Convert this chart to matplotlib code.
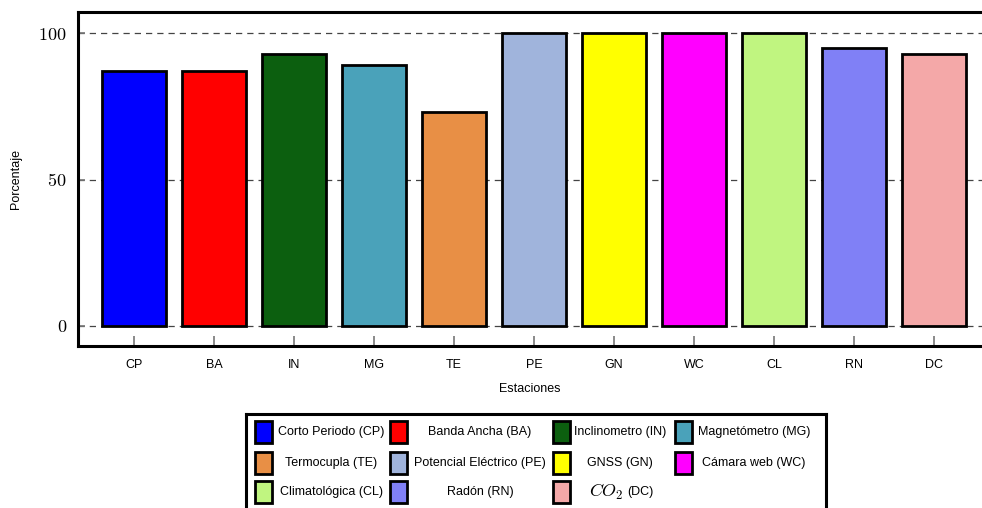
import matplotlib
matplotlib.use("Agg")
import matplotlib.pyplot as plt
from matplotlib.patches import Rectangle

plt.rcParams["font.family"] = ["Liberation Sans", "DejaVu Sans"]
plt.rcParams["mathtext.fontset"] = "cm"

codes = ["CP", "BA", "IN", "MG", "TE", "PE", "GN", "WC", "CL", "RN", "DC"]
names = ["Corto Periodo (CP)", "Banda Ancha (BA)", "Inclinometro (IN)",
         "Magnetómetro (MG)", "Termocupla (TE)", "Potencial Eléctrico (PE)",
         "GNSS (GN)", "Cámara web (WC)", "Climatológica (CL)", "Radón (RN)",
         "CO2 (DC)"]
values = [87, 87, 93, 89, 73, 100, 100, 100, 100, 95, 93]
colors = ["#0000ff", "#ff0000", "#0c5f0f", "#4aa2ba", "#e88f45", "#a0b4dc",
          "#ffff00", "#ff00ff", "#c0f580", "#8080f6", "#f4a8a8"]
yticks = [0, 50, 100]

W, H = 982, 508
fig = plt.figure(figsize=(W / 100, H / 100), dpi=100)
ax = fig.add_axes([78 / W, 1 - 346 / H, 1 - 78 / W, (346 - 12) / H])

x = list(range(len(codes)))
ax.bar(x, values, width=0.8, color=colors, edgecolor="black", linewidth=2, zorder=3)

ax.set_xlim(-0.7, 10.6)
ax.set_ylim(-6.83, 107.2)
ax.set_yticks(yticks)
ax.set_yticklabels([f"${v}$" for v in yticks], fontsize=13)
ax.set_xticks(x)
ax.set_xticklabels(codes, fontsize=9)
ax.tick_params(axis="x", direction="in", length=7, color="#777777", width=1.2, pad=9)
ax.tick_params(axis="y", direction="in", length=5, color="#777777", width=1.2, pad=8)
ax.grid(axis="y", linestyle=(0, (5, 4)), color="#444444", linewidth=0.9, zorder=0)
for side in ["left", "top", "bottom"]:
    ax.spines[side].set_linewidth(2.2)
    ax.spines[side].set_color("black")
ax.spines["right"].set_visible(False)
ax.set_xlabel("Estaciones", fontsize=9, labelpad=9)
ax.set_ylabel("Porcentaje", fontsize=9)
ax.yaxis.set_label_coords(-(78 - 22) / (W - 78), 0.5)

# legend drawn by hand so text is centred in each column
lg = fig.add_axes([246 / W, 1 - 520 / H, 580 / W, (520 - 414) / H])
lg.set_xlim(246, 826)
lg.set_ylim(520, 414)
lg.set_xticks([])
lg.set_yticks([])
for s in lg.spines.values():
    s.set_linewidth(2.2)
    s.set_color("black")

handle_x = [255, 390, 553, 675]
text_x = [331, 480, 620, 754]
row_y = [432, 463, 492]
for i, (name, c) in enumerate(zip(names, colors)):
    r, col = divmod(i, 4)
    lg.add_patch(Rectangle((handle_x[col], row_y[r] - 11), 17, 22,
                           facecolor=c, edgecolor="black", linewidth=2))
    if name.startswith("CO2"):
        lg.text(text_x[col] + 3, row_y[r], r"$CO_2$", ha="right", va="center", fontsize=13)
        lg.text(text_x[col] + 7, row_y[r], name[3:].strip(), ha="left", va="center", fontsize=9)
    else:
        lg.text(text_x[col], row_y[r], name, ha="center", va="center", fontsize=9)

fig.savefig("out.png", dpi=100)
